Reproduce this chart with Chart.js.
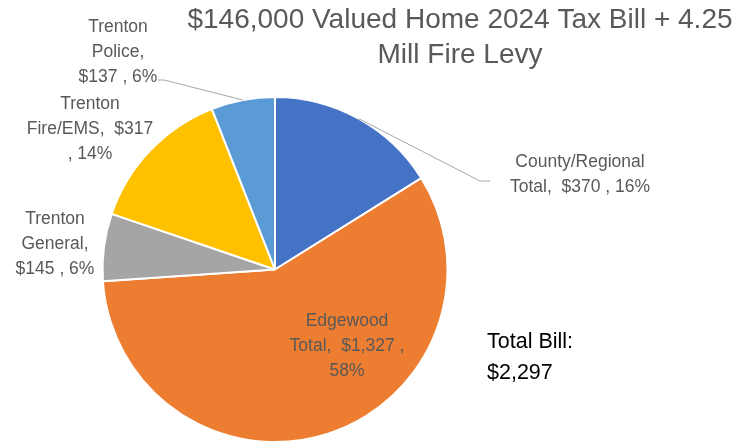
<!DOCTYPE html>
<html>
<head>
<meta charset="utf-8">
<script src="https://cdn.jsdelivr.net/npm/chart.js@4"></script>
<style>
  body { margin: 0; background: #fff; }
  #wrap { width: 736px; height: 443px; }
</style>
</head>
<body>
<div id="wrap"><canvas id="taxChart" width="736" height="443"></canvas></div>
<script>
// chart data
const categories = ['County/Regional Total', 'Edgewood Total', 'Trenton General', 'Trenton Fire/EMS', 'Trenton Police'];
const amounts = [370, 1327, 145, 317, 137];
const sliceColors = ['#4472C4', '#ED7D31', '#A5A5A5', '#FFC000', '#5B9BD5'];
const titleLines = ['$146,000 Valued Home 2024 Tax Bill + 4.25', 'Mill Fire Levy'];
const totalBill = 2297;

// how each data label is broken into lines, and where it sits
const labelLines = [
    (v, p) => ['County/Regional', 'Total,  $' + v + ' , ' + p],
    (v, p) => ['Edgewood', 'Total,  $' + v + ' ,', p],
    (v, p) => ['Trenton', 'General,', '$' + v + ' , ' + p],
    (v, p) => ['Trenton', 'Fire/EMS,  $' + v, ', ' + p],
    (v, p) => ['Trenton', 'Police,', '$' + v + ' , ' + p]
];
const labelPos = [[580, 162], [347, 321], [55, 219], [90, 104], [118, 27]];
const leaderEnd = [[[480, 181], [490, 181]], null, null, null, [[164, 80], [158, 80]]];

const FONT = '"Liberation Sans", Arial, sans-serif';

function money(v) {
    return v.toLocaleString('en-US');
}

const labelPlugin = {
    id: 'excelLabels',
    afterDatasetsDraw(chart) {
        const ctx = chart.ctx;
        const meta = chart.getDatasetMeta(0);
        const sum = amounts.reduce((a, b) => a + b, 0);
        ctx.save();

        // leader lines
        ctx.strokeStyle = '#a6a6a6';
        ctx.lineWidth = 1;
        meta.data.forEach((arc, i) => {
            if (!leaderEnd[i]) return;
            const mid = (arc.startAngle + arc.endAngle) / 2;
            ctx.beginPath();
            ctx.moveTo(arc.x + Math.cos(mid) * arc.outerRadius, arc.y + Math.sin(mid) * arc.outerRadius);
            leaderEnd[i].forEach(p => ctx.lineTo(p[0], p[1]));
            ctx.stroke();
        });

        // label text
        ctx.fillStyle = '#595959';
        ctx.font = '17.5px ' + FONT;
        ctx.textAlign = 'center';
        ctx.textBaseline = 'middle';
        amounts.forEach((v, i) => {
            const pct = Math.round(v / sum * 100) + '%';
            const lines = labelLines[i](money(v), pct);
            lines.forEach((t, k) => {
                ctx.fillText(t, labelPos[i][0], labelPos[i][1] + k * 25);
            });
        });

        // title
        ctx.font = '28px ' + FONT;
        titleLines.forEach((t, k) => {
            ctx.fillText(t, 460, 20 + k * 35);
        });

        // total text box
        ctx.fillStyle = '#000';
        ctx.font = '21.5px ' + FONT;
        ctx.textAlign = 'left';
        ctx.fillText('Total Bill:', 487, 342);
        ctx.fillText('$' + money(totalBill), 487, 373);
        ctx.restore();
    }
};

new Chart(document.getElementById('taxChart'), {
    type: 'pie',
    data: {
        labels: categories,
        datasets: [{
            data: amounts,
            backgroundColor: sliceColors,
            borderColor: '#ffffff',
            borderWidth: 2
        }]
    },
    options: {
        responsive: false,
        animation: false,
        layout: { padding: { left: 99, right: 285, top: 96, bottom: -2 } },
        plugins: {
            legend: { display: false },
            tooltip: { enabled: false }
        }
    },
    plugins: [labelPlugin]
});
</script>
</body>
</html>
